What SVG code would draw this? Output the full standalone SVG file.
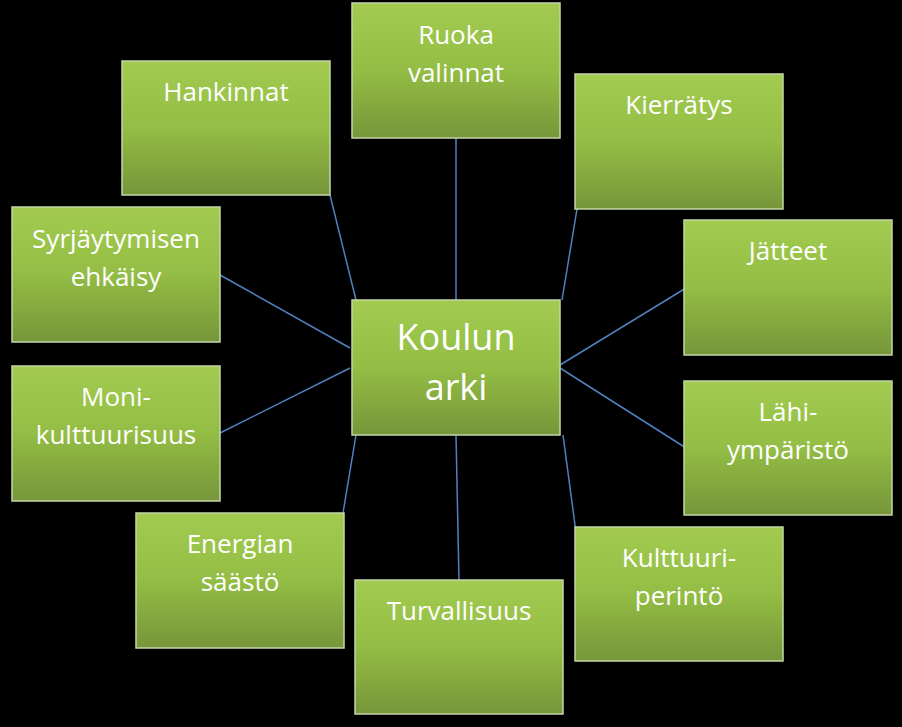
<svg xmlns="http://www.w3.org/2000/svg" width="902" height="727" viewBox="0 0 902 727">
<defs>
<linearGradient id="g" x1="0" y1="0" x2="0" y2="1">
<stop offset="0" stop-color="#a2cb50"/><stop offset="0.5" stop-color="#93bd44"/><stop offset="1" stop-color="#76963a"/>
</linearGradient>
<style>
.b{fill:url(#g);stroke:#c4d6a8;stroke-width:1.5}
.t{fill:#fff;font-family:"Open Sans","Liberation Sans",sans-serif;font-size:26px;text-anchor:middle}
.c{font-size:36px}
#conn line{stroke:#4f81bd;stroke-width:1.5}
</style>
</defs>
<rect width="902" height="727" fill="#000"/>
<g id="conn">
<line x1="456" y1="300" x2="456" y2="138"/>
<line x1="356" y1="300" x2="330" y2="195"/>
<line x1="562" y1="300" x2="577" y2="209"/>
<line x1="350" y1="348" x2="220" y2="275"/>
<line x1="560" y1="365" x2="686" y2="288"/>
<line x1="350" y1="368" x2="220" y2="433"/>
<line x1="560" y1="368" x2="686" y2="448"/>
<line x1="356" y1="435" x2="343" y2="513"/>
<line x1="456" y1="435" x2="459" y2="580"/>
<line x1="563" y1="435" x2="577" y2="540"/>
</g>
<g id="ruoka"><rect class="b" x="352" y="3" width="208" height="135"/><text class="t" x="456" y="44">Ruoka</text><text class="t" x="456" y="82">valinnat</text></g>
<g id="hankinnat"><rect class="b" x="122" y="61" width="208" height="134"/><text class="t" x="226" y="101">Hankinnat</text></g>
<g id="kierratys"><rect class="b" x="575" y="74" width="208" height="135"/><text class="t" x="679" y="114">Kierrätys</text></g>
<g id="syrja"><rect class="b" x="12" y="207" width="208" height="135"/><text class="t" x="116" y="248">Syrjäytymisen</text><text class="t" x="116" y="286">ehkäisy</text></g>
<g id="jatteet"><rect class="b" x="684" y="220" width="208" height="135"/><text class="t" x="788" y="260">Jätteet</text></g>
<g id="center"><rect class="b" x="352" y="300" width="208" height="135"/><text class="t c" x="456" y="350">Koulun</text><text class="t c" x="456" y="400">arki</text></g>
<g id="moni"><rect class="b" x="12" y="366" width="208" height="135"/><text class="t" x="116" y="406">Moni-</text><text class="t" x="116" y="444">kulttuurisuus</text></g>
<g id="lahi"><rect class="b" x="684" y="381" width="208" height="134"/><text class="t" x="788" y="421">Lähi-</text><text class="t" x="788" y="459">ympäristö</text></g>
<g id="energia"><rect class="b" x="136" y="513" width="208" height="135"/><text class="t" x="240" y="553">Energian</text><text class="t" x="240" y="591">säästö</text></g>
<g id="turva"><rect class="b" x="355" y="580" width="208" height="134"/><text class="t" x="459" y="620">Turvallisuus</text></g>
<g id="kulttuuri"><rect class="b" x="575" y="527" width="208" height="134"/><text class="t" x="679" y="567">Kulttuuri-</text><text class="t" x="679" y="605">perintö</text></g>
</svg>
